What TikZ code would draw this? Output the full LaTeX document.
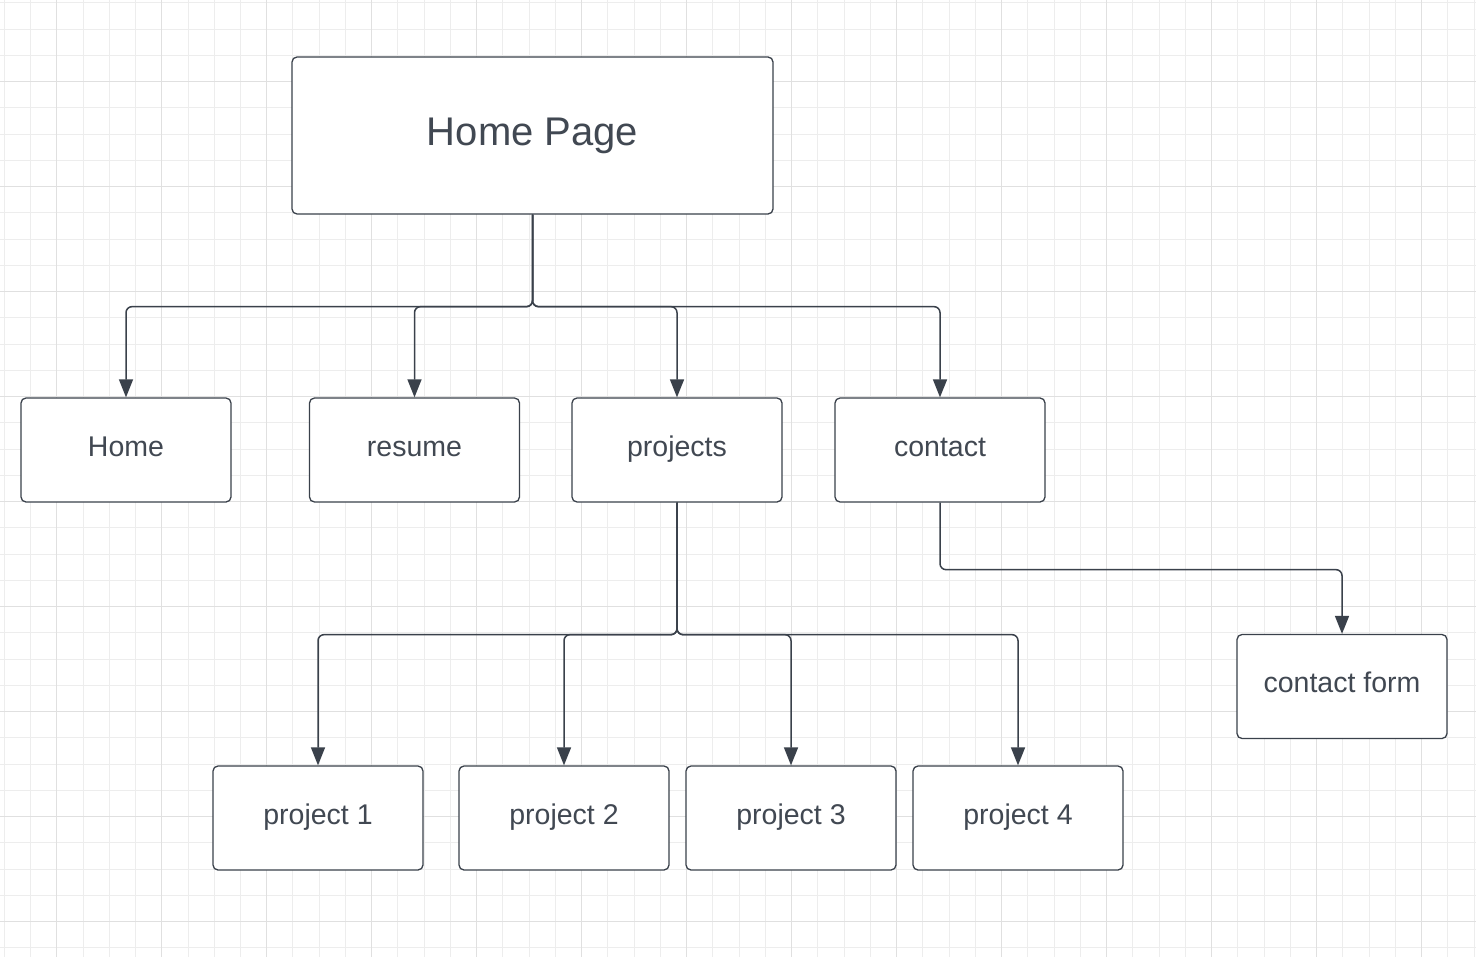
\documentclass[tikz,border=0pt]{standalone}
\usepackage{fontspec}
\setmainfont{Liberation Sans}
\usetikzlibrary{arrows.meta}
\definecolor{lineclr}{HTML}{3A414B}
\definecolor{txtclr}{HTML}{414852}
\definecolor{gridminor}{HTML}{EDEDED}
\definecolor{gridmajor}{HTML}{E0E0E0}
\tikzset{
  box/.style={draw=lineclr, line width=0.65pt, fill=white, rounded corners=2.5pt,
    minimum width=105pt, minimum height=52pt, inner sep=0pt, text=txtclr,
    text height=10pt, text depth=4pt,
    font=\fontsize{14.25pt}{16pt}\selectfont},
  bigbox/.style={box, minimum width=240.5pt, minimum height=78.5pt,
    text height=14pt, text depth=4.2pt,
    font=\fontsize{20pt}{22pt}\selectfont},
  conn/.style={draw=lineclr, line width=0.75pt, rounded corners=3pt,
    -{Triangle[length=9pt,width=7pt]}},
  gminor/.style={draw=gridminor, line width=0.5pt},
  gmajor/.style={draw=gridmajor, line width=0.5pt}
}
\begin{document}
\begin{tikzpicture}[x=0.5pt,y=-0.5pt]
\useasboundingbox (0,0) rectangle (1476,957);
\fill[white] (0,0) rectangle (1476,957);
% grid
\foreach \k in {0,...,56} {
  \pgfmathsetmacro\xx{4.3+26.245*\k}
  \draw[gminor] (\xx,0) -- (\xx,957);
}
\foreach \k in {0,...,36} {
  \pgfmathsetmacro\yy{3+26.245*\k}
  \draw[gminor] (0,\yy) -- (1476,\yy);
}
\foreach \k in {2,6,...,54} {
  \pgfmathsetmacro\xx{4.3+26.245*\k}
  \draw[gmajor] (\xx,0) -- (\xx,957);
}
\foreach \k in {3,7,...,35} {
  \pgfmathsetmacro\yy{3+26.245*\k}
  \draw[gmajor] (0,\yy) -- (1476,\yy);
}
% nodes
\node[bigbox] (hp) at (532.5,135.5) {Home Page};
\node[box] (home) at (126,450) {Home};
\node[box] (resume) at (414.5,450) {resume};
\node[box] (projects) at (677,450) {projects};
\node[box] (contact) at (940,450) {contact};
\node[box] (cform) at (1342,686.5) {contact form};
\node[box] (p1) at (318,818) {project 1};
\node[box] (p2) at (564,818) {project 2};
\node[box] (p3) at (791,818) {project 3};
\node[box] (p4) at (1018,818) {project 4};
% connectors
\foreach \t in {home,resume,projects,contact}
  \draw[conn] (hp.south) -- ++(0,92) -| (\t.north);
\foreach \t in {p1,p2,p3,p4}
  \draw[conn] (projects.south) -- ++(0,132) -| (\t.north);
\draw[conn] (contact.south) -- ++(0,67) -| (cform.north);
\end{tikzpicture}
\end{document}
